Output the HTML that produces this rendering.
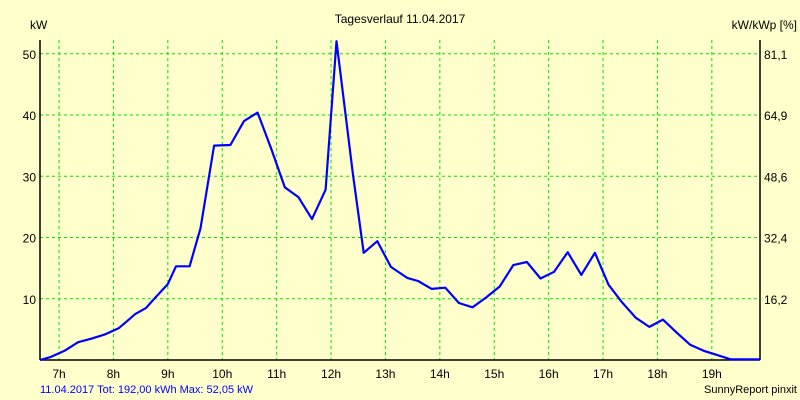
<!DOCTYPE html>
<html><head><meta charset="utf-8"><style>
html,body{margin:0;padding:0;background:#ffffcc;}
svg{display:block;font-family:"Liberation Sans",sans-serif;}
</style></head><body>
<svg width="800" height="400">
<rect x="0" y="0" width="800" height="400" fill="#ffffcc"/>
<g id="grid"></g>
<g id="axes"></g>
<polyline id="line" fill="none" stroke="#0000ff" stroke-width="2.2" stroke-linejoin="round"/>
<text x="400" y="23" font-size="12" text-anchor="middle">Tagesverlauf 11.04.2017</text>
<text x="30" y="29" font-size="12">kW</text>
<text x="797" y="29" font-size="12" text-anchor="end">kW/kWp [%]</text>
<text x="40" y="393" font-size="11" fill="#0000ff">11.04.2017 Tot: 192,00 kWh Max: 52,05 kW</text>
<text x="797" y="393" font-size="11" text-anchor="end">SunnyReport pinxit</text>
</svg>
<script>
const hours=[7,8,9,10,11,12,13,14,15,16,17,18,19];
const yTicks=[10,20,30,40,50];
const rightTickLabels=["16,2","32,4","48,6","64,9","81,1"];
const times=[6.65,6.85,7.1,7.35,7.6,7.85,8.1,8.4,8.6,8.75,9.0,9.15,9.4,9.6,9.85,10.15,10.4,10.65,10.9,11.15,11.4,11.65,11.9,12.1,12.4,12.6,12.85,13.1,13.4,13.6,13.85,14.1,14.35,14.6,14.85,15.1,15.35,15.6,15.85,16.1,16.35,16.6,16.85,17.1,17.35,17.6,17.85,18.1,18.35,18.6,18.85,19.1,19.35,19.88];
const kw=[0,0.5,1.5,2.9,3.5,4.2,5.2,7.5,8.5,10,12.4,15.3,15.3,21.5,35,35.1,39,40.4,34.5,28.2,26.6,23,27.8,52.05,30.5,17.5,19.4,15.2,13.4,12.9,11.6,11.8,9.3,8.6,10.2,12,15.5,16,13.3,14.4,17.6,13.9,17.5,12.3,9.4,6.9,5.4,6.6,4.5,2.5,1.5,0.8,0.1,0.1];
const L=40,R=760,T=40,B=360;
const xs=t=>L+(t-6.65)*54.4;
const ys=v=>B-v*6.125;
const NS="http://www.w3.org/2000/svg";
const grid=document.getElementById('grid'),axes=document.getElementById('axes');
function mk(tag,attrs,parent){const e=document.createElementNS(NS,tag);for(const k in attrs)e.setAttribute(k,attrs[k]);parent.appendChild(e);return e;}
hours.forEach(h=>{
  const x=xs(h);
  const g=mk('line',{x1:x,x2:x,y1:T,y2:B,stroke:'#00e600','stroke-dasharray':'3,3'},grid);
  
  
  const t=mk('text',{x:x,y:378,'font-size':12,'text-anchor':'middle'},axes);
  t.textContent=h+'h';
  
  
});
yTicks.forEach((v,i)=>{
  const y=ys(v);
  const g=mk('line',{x1:L,x2:R,y1:y,y2:y,stroke:'#00e600','stroke-dasharray':'3,3'},grid);
  
  
  const t=mk('text',{x:36,y:y+5,'font-size':12,'text-anchor':'end'},axes);
  t.textContent=v;
  
  
  const t2=mk('text',{x:764,y:y+5,'font-size':12},axes);
  t2.textContent=rightTickLabels[i];
  
  
});
[[L,T,L,B,'left-axis'],[R,T,R,B,'right-axis'],[L,B,R,B,'x-axis']].forEach(a=>{
  const l=mk('line',{x1:a[0],y1:a[1],x2:a[2],y2:a[3],stroke:'#000','stroke-width':1.5},axes);
  
  
});
document.getElementById('line').setAttribute('points',times.map((t,i)=>xs(t).toFixed(1)+','+ys(kw[i]).toFixed(1)).join(' '));
</script>
</body></html>
